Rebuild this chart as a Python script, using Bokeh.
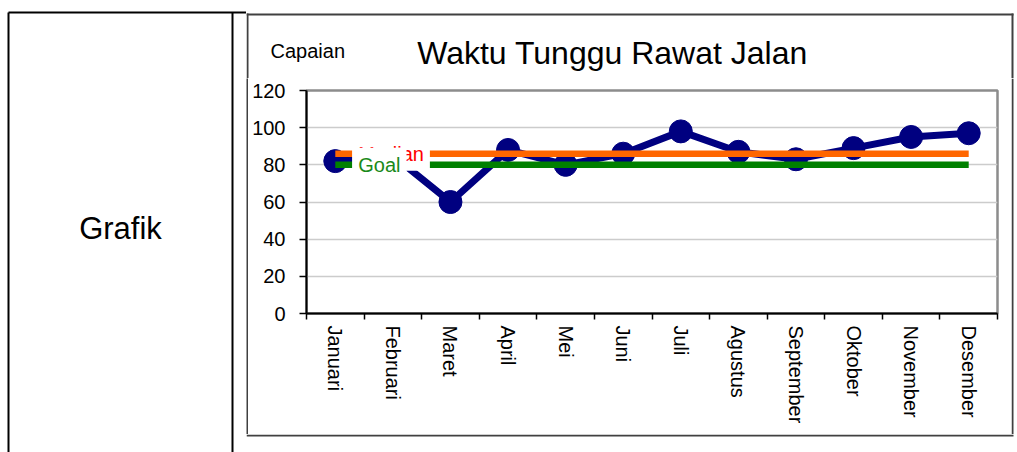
import numpy as np
from bokeh.plotting import figure
from bokeh.layouts import row, column
from bokeh.models import Range1d, FixedTicker, Label
from bokeh.core.properties import value
from bokeh.embed import file_html
from bokeh.resources import INLINE

# ---- data ----
months = ["Januari", "Februari", "Maret", "April", "Mei", "Juni", "Juli",
          "Agustus", "September", "Oktober", "November", "Desember"]
capaian = [82, 85, 60, 88, 80, 86, 98, 87, 83, 89, 95, 97]
median_value = 86
goal_value = 80
y_ticks = [0, 20, 40, 60, 80, 100, 120]
title_text = "Waktu Tunggu Rawat Jalan"
y_title = "Capaian"
row_label = "Grafik"
series_labels = ["Median", "Goal"]

FONT = "Liberation Sans"
BOX = "#404040"


def blank(w, h, color="white"):
    f = figure(width=w, height=h, output_backend="svg", toolbar_location=None,
               title=None, x_axis_location=None, y_axis_location=None,
               x_range=Range1d(0, w), y_range=Range1d(h, 0),
               min_border=0, min_border_left=0, min_border_right=0,
               min_border_top=0, min_border_bottom=0)
    f.grid.visible = False
    f.outline_line_color = None
    f.background_fill_color = color
    f.border_fill_color = color
    return f


# ---- left table cell ----
L = blank(246, 452)
L.segment(x0=[8, 232, 8], y0=[12, 12, 12], x1=[8, 232, 246], y1=[452, 452, 12],
          line_color="black", line_width=2)
L.text(x=[120], y=[228], text=[row_label], text_font=value(FONT),
       text_font_size=value("31px"), text_color="black", text_align="center",
       text_baseline="middle")

# ---- header strip: box top edge, upper parts of box sides, titles ----
T = blank(771, 78)
T.quad(left=[0, 0, 765], right=[767, 2, 767], top=[13, 13, 13], bottom=[15, 78, 78],
       fill_color=BOX, line_color=None)
T.text(x=[366], y=[52], text=[title_text], text_font=value(FONT),
       text_font_size=value("32px"), text_color="black", text_align="center",
       text_baseline="middle")
T.text(x=[24], y=[50], text=[y_title], text_font=value(FONT),
       text_font_size=value("20px"), text_color="black", text_align="left",
       text_baseline="middle")

# ---- chart ----
x_pos = list(np.arange(len(months)) + 0.5)
bounds = list(np.arange(len(months) + 1))

p = figure(width=763, height=356, output_backend="svg", toolbar_location=None,
           title=None,
           x_range=Range1d(0, len(months)), y_range=Range1d(y_ticks[0], y_ticks[-1]),
           min_border_left=58, min_border_right=14, min_border_top=12, min_border_bottom=121)
p.background_fill_color = "white"
p.border_fill_color = "white"
p.outline_line_color = "#8c8c8c"
p.outline_line_width = 2.5

xa = p.xaxis[0]
xa.ticker = FixedTicker(ticks=x_pos, minor_ticks=bounds)
xa.major_label_overrides = {float(x): m for x, m in zip(x_pos, months)}
xa.major_label_orientation = -np.pi / 2
xa.major_tick_line_color = None
xa.major_tick_out = 0
xa.major_tick_in = 0
xa.minor_tick_out = 6
xa.minor_tick_in = 0
xa.minor_tick_line_color = "black"
xa.minor_tick_line_width = 1.5
xa.major_label_standoff = 6
xa.major_label_text_font = FONT
xa.major_label_text_font_size = "20px"
xa.major_label_text_color = "black"
xa.axis_line_color = "black"
xa.axis_line_width = 2

ya = p.yaxis[0]
ya.ticker = FixedTicker(ticks=y_ticks, minor_ticks=[])
ya.major_tick_out = 7
ya.major_tick_in = 0
ya.major_tick_line_width = 1.5
ya.major_tick_line_color = "black"
ya.minor_tick_line_color = None
ya.major_label_standoff = 14
ya.major_label_text_font = FONT
ya.major_label_text_font_size = "20px"
ya.major_label_text_color = "black"
ya.axis_line_color = "black"
ya.axis_line_width = 2

p.xgrid.grid_line_color = None
p.ygrid.ticker = FixedTicker(ticks=y_ticks)
p.ygrid.grid_line_color = "#cccccc"
p.ygrid.grid_line_width = 1.5

p.line(x_pos, capaian, line_color="#000080", line_width=7, line_join="round")
p.scatter(x_pos, capaian, size=23, fill_color="#000080", line_color="#000080")
p.line([x_pos[0], x_pos[-1]], [median_value, median_value], line_color="#FF6600", line_width=6.5)
p.line([x_pos[0], x_pos[-1]], [goal_value, goal_value], line_color="#008000", line_width=6.5)

p.add_layout(Label(x=x_pos[0], y=median_value, x_offset=17, text=series_labels[0],
                   text_font=FONT, text_font_size="20px", text_color="#FF0000",
                   text_baseline="middle", background_fill_color="white", padding=6))
p.add_layout(Label(x=x_pos[0], y=goal_value, x_offset=17, text=series_labels[1],
                   text_font=FONT, text_font_size="20px", text_color="#1a8a1a",
                   text_baseline="middle", background_fill_color="white", padding=6))

# ---- side strips for the box (middle part) ----
SL = blank(2, 356, BOX)
SR = blank(6, 356)
SR.quad(left=[0], right=[2], top=[0], bottom=[356], fill_color=BOX, line_color=None)

# ---- bottom strip: box bottom edge ----
B = blank(771, 18)
B.quad(left=[0], right=[767], top=[0], bottom=[2], fill_color=BOX, line_color=None)

right = column(
    T,
    row(column(SL), column(p), column(SR)),
    B,
)

layout = row(L, right)

open("out.html", "w").write(file_html(layout, INLINE))
